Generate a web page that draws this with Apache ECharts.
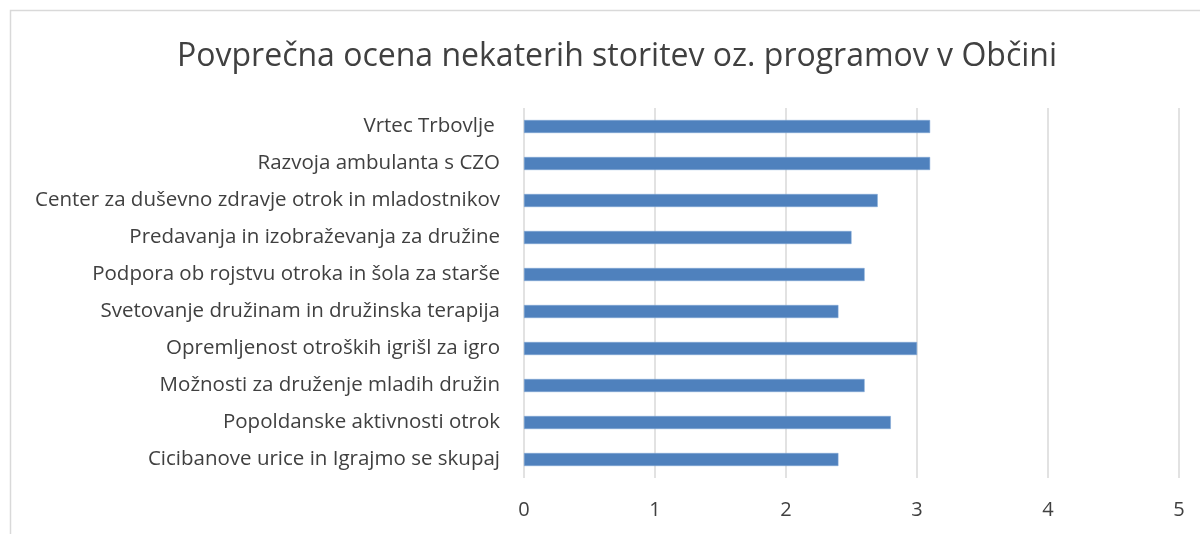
<!DOCTYPE html>
<html>
<head>
<meta charset="utf-8">
<script src="https://cdn.jsdelivr.net/npm/echarts@6/dist/echarts.min.js"></script>
<style>
  html, body { margin: 0; padding: 0; background: #fff; }
  #echart_main { width: 1200px; height: 534px; }
</style>
</head>
<body>
<div id="echart_main"></div>
<script>
// kategorije od zgoraj navzdol
var categories = [
    'Vrtec Trbovlje ',
    'Razvoja ambulanta s CZO',
    'Center za duševno zdravje otrok in mladostnikov',
    'Predavanja in izobraževanja za družine',
    'Podpora ob rojstvu otroka in šola za starše',
    'Svetovanje družinam in družinska terapija',
    'Opremljenost otroških igrišl za igro',
    'Možnosti za druženje mladih družin',
    'Popoldanske aktivnosti otrok',
    'Cicibanove urice in Igrajmo se skupaj'
];
var ocene = [3.1, 3.1, 2.7, 2.5, 2.6, 2.4, 3.0, 2.6, 2.8, 2.4];
var xTicks = [0, 1, 2, 3, 4, 5];

var myChart = echarts.init(document.getElementById('echart_main'));
var option = {
    animation: false,
    textStyle: { fontFamily: 'Open Sans' },
    title: {
        text: 'Povprečna ocena nekaterih storitev oz. programov v Občini',
        left: 612,
        top: 36,
        textAlign: 'center',
        textStyle: {
            color: '#404040',
            fontSize: 32,
            fontWeight: 'normal',
            fontFamily: 'Open Sans'
        }
    },
    graphic: [{
        type: 'rect',
        shape: { x: 10.5, y: 10.5, width: 1200, height: 540 },
        style: { fill: 'none', stroke: '#d9d9d9', lineWidth: 1.5 },
        silent: true
    }],
    grid: {
        left: 524,
        right: 21,
        top: 108,
        bottom: 56
    },
    xAxis: {
        type: 'value',
        min: xTicks[0],
        max: xTicks[xTicks.length - 1],
        interval: 1,
        axisLine: { show: false },
        axisTick: { show: false },
        axisLabel: {
            color: '#404040',
            fontSize: 20,
            margin: 22
        },
        splitLine: {
            show: true,
            lineStyle: { color: '#d9d9d9', width: 1.5 }
        }
    },
    yAxis: {
        type: 'category',
        inverse: true,
        data: categories,
        axisLine: { show: false },
        axisTick: { show: false },
        axisLabel: {
            color: '#404040',
            fontSize: 20.5,
            margin: 24
        }
    },
    series: [{
        name: 'Ocena',
        type: 'bar',
        data: ocene,
        barWidth: 13,
        itemStyle: {
            color: '#4F81BD',
            borderColor: '#7ea6d6',
            borderWidth: 0.5
        }
    }]
};
myChart.setOption(option);
window.onresize = function () {
    myChart.resize();
};
</script>
</body>
</html>
